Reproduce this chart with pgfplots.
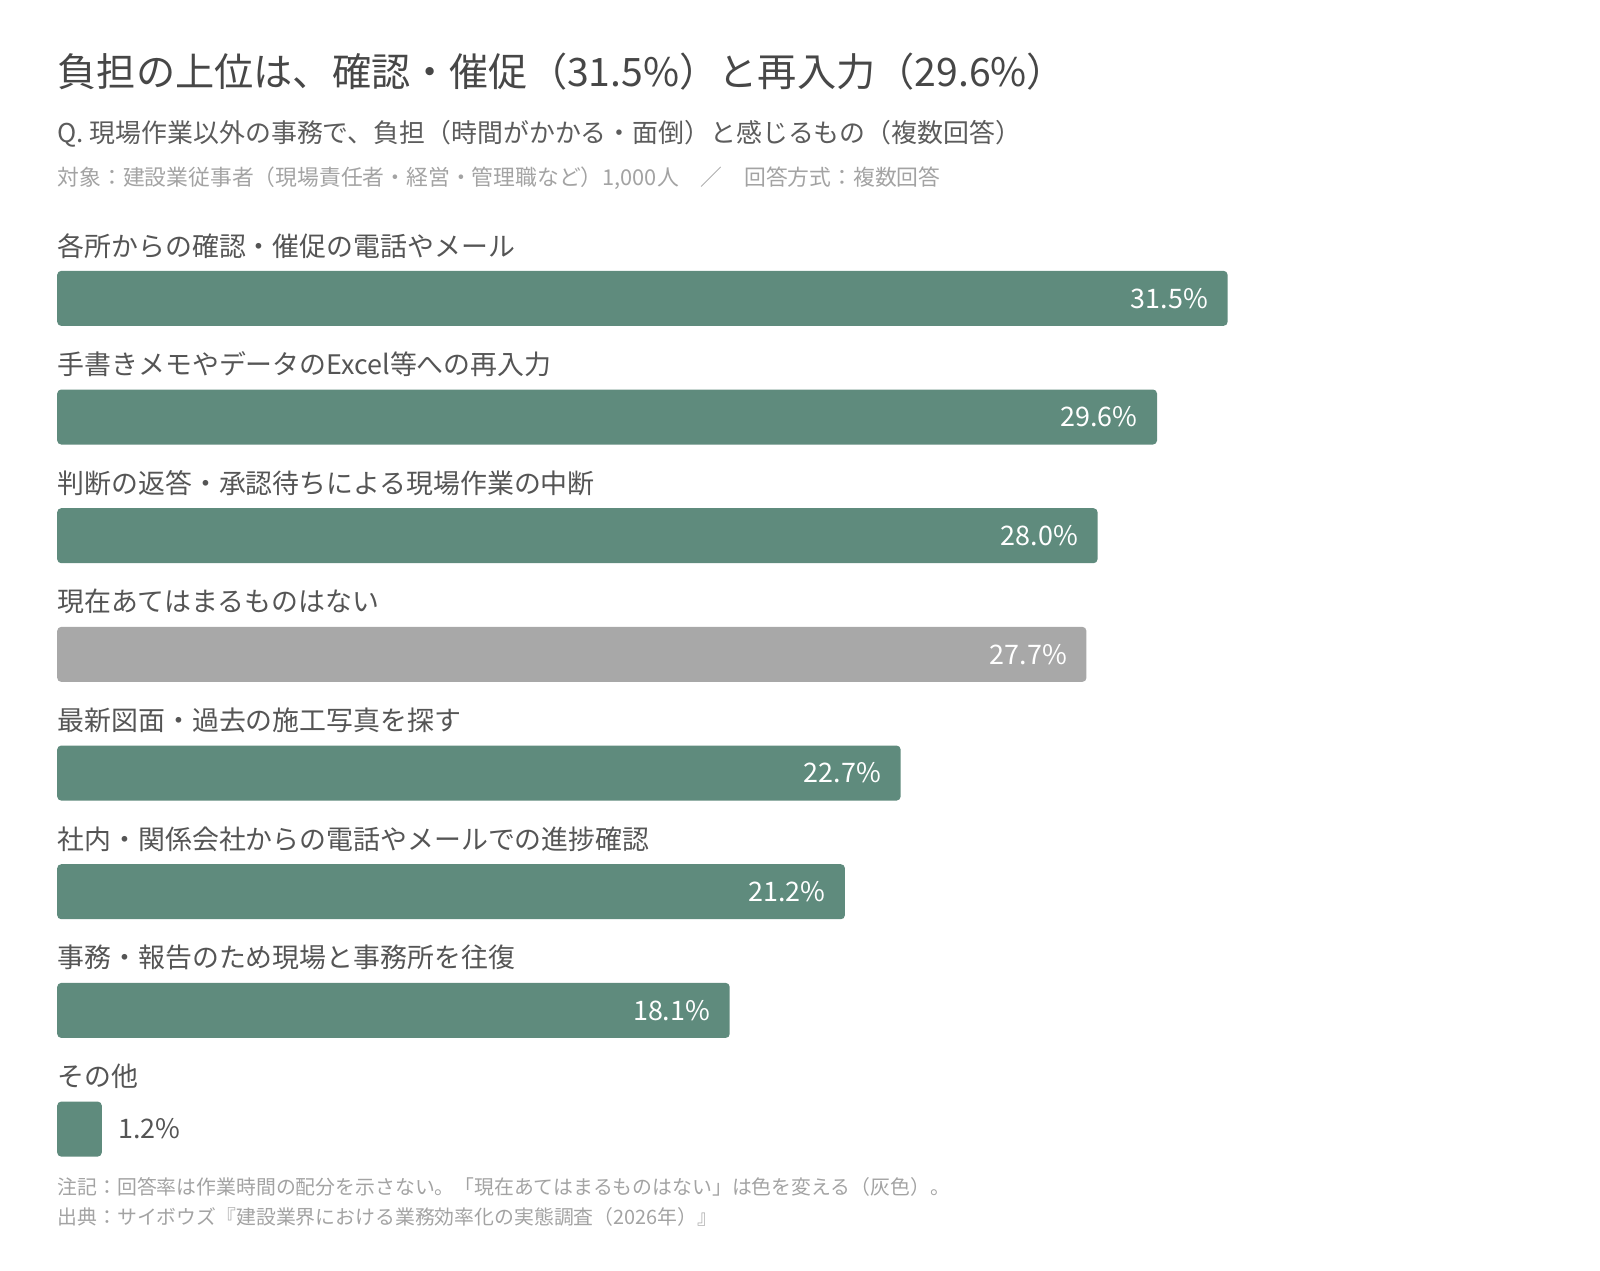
\documentclass[border=0pt]{standalone}
\usepackage{fontspec}
\setmainfont{Noto Sans CJK JP}
\usepackage{pgfplots}
\pgfplotsset{compat=1.18}

\definecolor{barG}{HTML}{5F8B7D}
\definecolor{barGray}{HTML}{A8A8A8}
\definecolor{txtTitle}{HTML}{474747}
\definecolor{txtSub}{HTML}{5C5C5C}
\definecolor{txtLab}{HTML}{555555}
\definecolor{txtNote}{HTML}{A3A3A3}

% 1 px of the reference = 0.5pt
\begin{document}
\begin{tikzpicture}
\path[use as bounding box] (0,0) rectangle (800pt,-635pt);

\node[anchor=west, inner sep=0, text=txtTitle, font=\fontsize{19.6}{24}\selectfont]
  at (28.6pt,-35.7pt) {負担の上位は、確認・催促（31.5\%）と再入力（29.6\%）};
\node[anchor=west, inner sep=0, text=txtSub, font=\fontsize{12.95}{16}\selectfont]
  at (28.6pt,-66.8pt) {Q. 現場作業以外の事務で、負担（時間がかかる・面倒）と感じるもの（複数回答）};
\node[anchor=west, inner sep=0, text=txtNote, font=\fontsize{10.9}{13}\selectfont]
  at (28.6pt,-89.3pt) {対象：建設業従事者（現場責任者・経営・管理職など）1,000人　／　回答方式：複数回答};

\begin{axis}[
  at={(28.6pt,-119.5pt)}, anchor=north west,
  scale only axis,
  width=585.2pt, height=474.7pt,
  xmin=0, xmax=31.5,
  ymin=-0.5, ymax=7.5,
  y dir=reverse,
  hide axis,
  clip=false,
  xbar, bar width=27.5pt, bar shift=0pt,
  point meta=explicit symbolic,
  nodes near coords={\pgfplotspointmeta\%},
]

% green bars
\addplot[fill=barG, draw=none, rounded corners=2pt,
  nodes near coords style={anchor=east, inner sep=0, xshift=-9.6pt, text=white,
    font=\fontsize{13.45}{16}\selectfont}]
  coordinates {
    (31.5,0) [31.5]
    (29.6,1) [29.6]
    (28.0,2) [28.0]
    (22.7,4) [22.7]
    (21.2,5) [21.2]
    (18.1,6) [18.1]
  };

% "none of these" in gray
\addplot[fill=barGray, draw=none, rounded corners=2pt,
  nodes near coords style={anchor=east, inner sep=0, xshift=-9.6pt, text=white,
    font=\fontsize{13.45}{16}\selectfont}]
  coordinates {(27.7,3) [27.7]};

% small bar, label outside
\addplot[fill=barG, draw=none, rounded corners=2pt,
  nodes near coords style={anchor=west, inner sep=0, xshift=8.2pt, text=txtLab,
    font=\fontsize{13.45}{16}\selectfont}]
  coordinates {(1.2,7) [1.2]};

% category labels above each bar
\begin{scope}[every node/.style={anchor=west, inner sep=0, text=txtLab,
    font=\fontsize{13.45}{16}\selectfont}]
\node at (axis cs:0,-0.443) {各所からの確認・催促の電話やメール};
\node at (axis cs:0,0.557) {手書きメモやデータのExcel等への再入力};
\node at (axis cs:0,1.557) {判断の返答・承認待ちによる現場作業の中断};
\node at (axis cs:0,2.557) {現在あてはまるものはない};
\node at (axis cs:0,3.557) {最新図面・過去の施工写真を探す};
\node at (axis cs:0,4.557) {社内・関係会社からの電話やメールでの進捗確認};
\node at (axis cs:0,5.557) {事務・報告のため現場と事務所を往復};
\node at (axis cs:0,6.557) {その他};
\end{scope}
\end{axis}

\node[anchor=west, inner sep=0, text=txtNote, font=\fontsize{9.93}{12}\selectfont]
  at (28.6pt,-593.4pt) {注記：回答率は作業時間の配分を示さない。「現在あてはまるものはない」は色を変える（灰色）。};
\node[anchor=west, inner sep=0, text=txtNote, font=\fontsize{9.93}{12}\selectfont]
  at (28.6pt,-608.7pt) {出典：サイボウズ『建設業界における業務効率化の実態調査（2026年）』};
\end{tikzpicture}
\end{document}
